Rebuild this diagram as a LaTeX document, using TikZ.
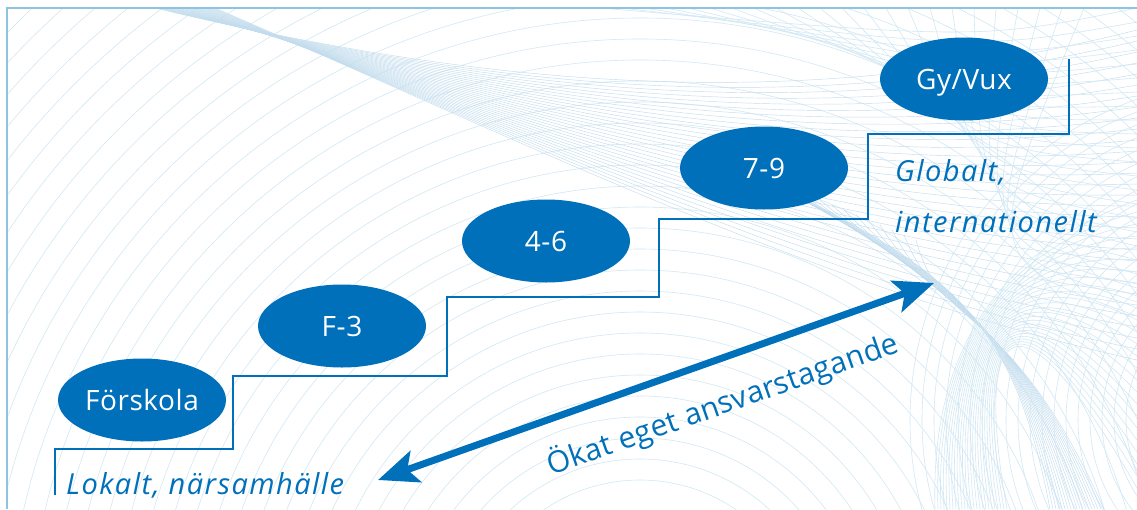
\documentclass[tikz,border=0pt]{standalone}
\usepackage{fontspec}
\setmainfont{Open Sans}
\newfontfamily\lblfont[LetterSpace=5]{Open Sans}
\newfontfamily\stagefont[LetterSpace=2]{Open Sans}
\newfontfamily\arrfont[LetterSpace=1]{Open Sans}
\usetikzlibrary{arrows.meta,shapes.geometric}
\definecolor{mainblue}{HTML}{0070BA}
\definecolor{framecol}{HTML}{8EC3E2}
\definecolor{bgline}{HTML}{D2E8F4}
\definecolor{bgline2}{HTML}{C3DDEE}
\tikzset{
  stage/.style={ellipse, fill=mainblue, text=white, minimum width=168pt, minimum height=83pt,
    inner sep=0pt, text height=20pt, text depth=0pt, font=\stagefont\fontsize{28}{30}\selectfont},
  stair/.style={draw=mainblue, line width=2.8pt, line join=miter},
  bigarrow/.style={draw=mainblue, line width=7pt,
    {Stealth[length=40pt,width=33pt,inset=9pt]}-{Stealth[length=40pt,width=33pt,inset=9pt]}},
  lbl/.style={text=mainblue, inner sep=0pt, font=\lblfont\itshape\fontsize{29}{30}\selectfont},
  bg/.style={draw=bgline, line width=0.6pt},
  bgd/.style={draw=bgline2, line width=0.45pt},
  framestyle/.style={draw=framecol, line width=2.7pt}
}
\begin{document}
\begin{tikzpicture}[x=1pt,y=-1pt]
\useasboundingbox (0,0) rectangle (1137,509);
\fill[white] (0,0) rectangle (1137,509);
% background guilloche
\begin{scope}
\clip (7,8) rectangle (1137,509);
\foreach \r in {170,191,...,1000} \draw[bg] (640,650) circle[radius=\r];
\foreach \i in {0,...,30} \draw[bgd] (155+2*\i,8) .. controls (520,95+1.5*\i) and (820,110+6*\i) .. (1137,30+11*\i);
\foreach \i in {0,...,22} \draw[bg] (1137,8+14*\i) .. controls (980,40+10*\i) .. (600+22*\i,8);
\foreach \i in {0,...,18} \draw[bgd] (700+12*\i,150+5*\i) .. controls (940,260+4*\i) and (1010,300) .. (1050+3*\i,509);
\foreach \i in {0,...,24} \draw[bg] (935+3*\i,509) .. controls (930+2*\i,350) and (1000,250) .. (1137,200+12*\i);
\foreach \r in {100,112,...,340} \draw[bg] (1250,420) circle[radius=\r];
\end{scope}
% frame
\draw[framestyle] (7,509) -- (7,8) -- (1137,8);
% stairs
\draw[stair] (55,495) |- (233,449) |- (447,376) |- (659,297) |- (868,219) |- (1069,134) -- (1069,59);
% stages
\node[stage] (fs) at (142,400) {Förskola};
\node[stage] (f3) at (342,326) {F-3};
\node[stage] (m46) at (546,241) {4-6};
\node[stage] (m79) at (764,168) {7-9};
\node[stage] (gy) at (964,79) {Gy/Vux};
% labels
\node[lbl, anchor=base west] (lok) at (66,494) {Lokalt, närsamhälle};
\node[lbl, anchor=base west] (glob1) at (895,181) {Globalt,};
\node[lbl, anchor=base west] (glob2) at (895,232) {internationellt};
% arrow
\coordinate (aL) at (378,480);
\coordinate (aR) at (934,283);
\draw[bigarrow] (aL) -- node[sloped, pos=0.594, below=29pt, inner sep=0pt, text height=21pt, text depth=6pt,
  text=mainblue, font=\arrfont\fontsize{30}{32}\selectfont] (arrtxt) {Ökat eget ansvarstagande} (aR);
\end{tikzpicture}
\end{document}
